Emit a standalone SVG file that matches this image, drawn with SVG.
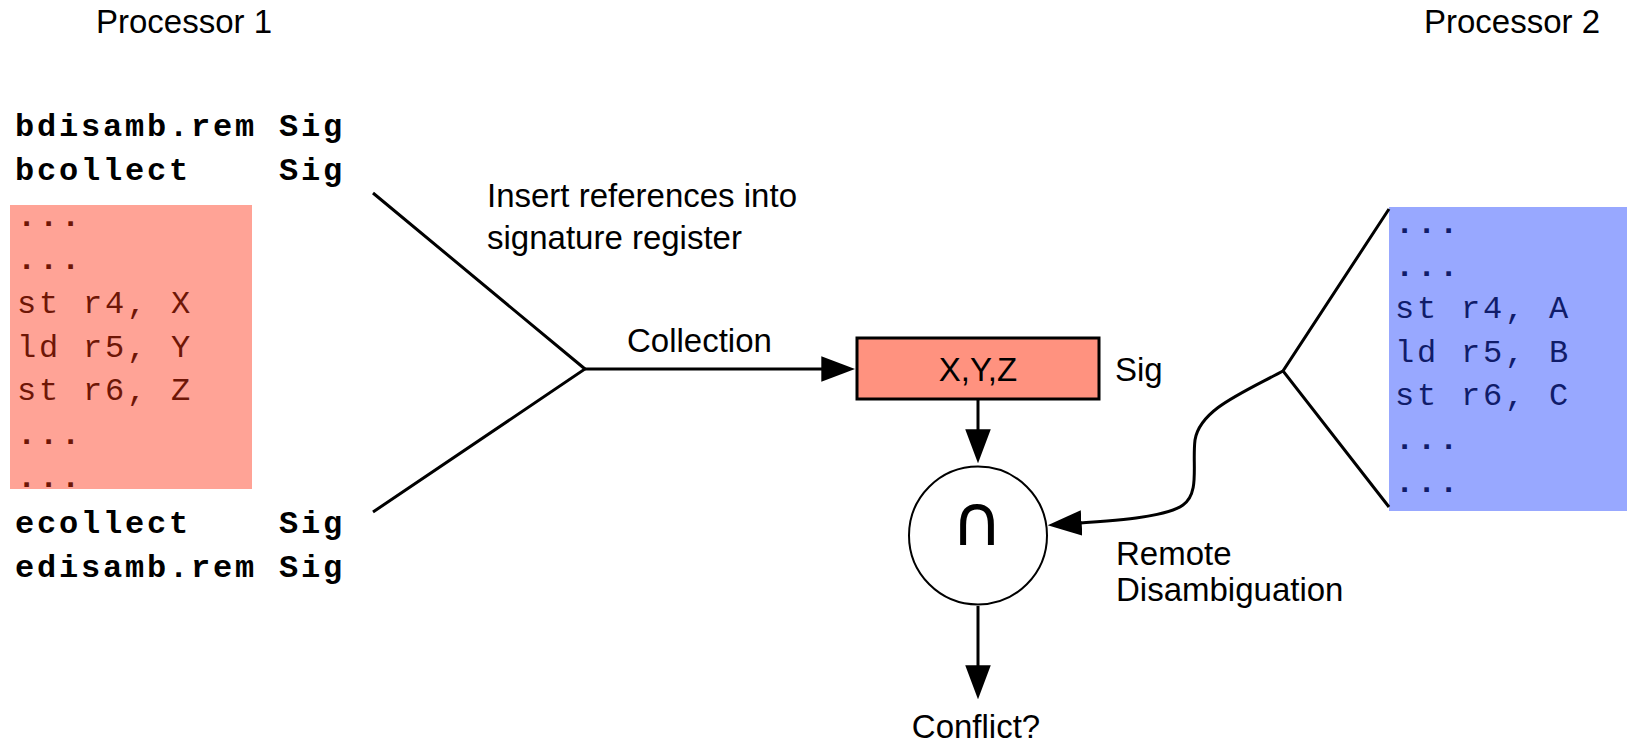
<svg xmlns="http://www.w3.org/2000/svg" width="1627" height="744" viewBox="0 0 1627 744">
<style>
.lbl{font-family:"Liberation Sans",Arial,Helvetica,sans-serif;font-size:33px;fill:#000}
.mono{font-family:"Liberation Mono","Courier New",monospace;font-size:32px;letter-spacing:2.8px;white-space:pre}
.bold{font-weight:bold;fill:#000}
.dots{font-weight:bold}
.red{fill:#6e1606}
.blue{fill:#101c6a}
.ln{fill:none;stroke:#000;stroke-width:3}
</style>
<defs>
<marker id="ah" markerUnits="userSpaceOnUse" markerWidth="34" markerHeight="26" viewBox="0 0 32 24" refX="27" refY="12" orient="auto">
<path d="M0,0 L32,12 L0,24 z" fill="#000"/>
</marker>
</defs>
<rect width="1627" height="744" fill="#fff"/>

<g id="proc1-title"><text class="lbl" x="96" y="33">Processor 1</text></g>
<g id="proc2-title"><text class="lbl" x="1424" y="33">Processor 2</text></g>

<g id="proc1-code">
<rect x="10" y="205" width="242" height="284" fill="#ffa396"/>
<text class="mono bold" x="15" y="136" xml:space="preserve">bdisamb.rem Sig</text>
<text class="mono bold" x="15" y="180" xml:space="preserve">bcollect    Sig</text>
<text class="mono red dots" x="17" y="226">...</text>
<text class="mono red dots" x="17" y="269">...</text>
<text class="mono red" x="17" y="313">st r4, X</text>
<text class="mono red" x="17" y="357">ld r5, Y</text>
<text class="mono red" x="17" y="400">st r6, Z</text>
<text class="mono red dots" x="17" y="444">...</text>
<text class="mono red dots" x="17" y="487">...</text>
<text class="mono bold" x="15" y="533" xml:space="preserve">ecollect    Sig</text>
<text class="mono bold" x="15" y="577" xml:space="preserve">edisamb.rem Sig</text>
</g>

<g id="proc2-code">
<rect x="1389" y="207" width="238" height="304" fill="#98a8ff"/>
<text class="mono blue dots" x="1395" y="233">...</text>
<text class="mono blue dots" x="1395" y="276">...</text>
<text class="mono blue" x="1395" y="318">st r4, A</text>
<text class="mono blue" x="1395" y="362">ld r5, B</text>
<text class="mono blue" x="1395" y="405">st r6, C</text>
<text class="mono blue dots" x="1395" y="449">...</text>
<text class="mono blue dots" x="1395" y="492">...</text>
</g>

<g id="sig-register">
<rect x="857" y="338" width="242" height="61" fill="#ff927f" stroke="#000" stroke-width="3"/>
<text class="lbl" x="978" y="381" text-anchor="middle">X,Y,Z</text>
<text class="lbl" x="1115" y="381">Sig</text>
</g>

<g id="intersect">
<circle cx="978" cy="535.5" r="69" fill="#fff" stroke="#000" stroke-width="2"/>
<text x="977" y="545" text-anchor="middle" style="font-family:'DejaVu Sans',sans-serif;font-size:71px">∩</text>
</g>

<g id="labels">
<text class="lbl" x="487" y="207">Insert references into</text>
<text class="lbl" x="487" y="249">signature register</text>
<text class="lbl" x="627" y="352">Collection</text>
<text class="lbl" x="1116" y="565">Remote</text>
<text class="lbl" x="1116" y="601">Disambiguation</text>
<text class="lbl" x="976" y="738" text-anchor="middle">Conflict?</text>
</g>

<g id="connectors">
<polyline class="ln" points="373,193 585,369 373,512"/>
<line class="ln" x1="585" y1="369" x2="850" y2="369" marker-end="url(#ah)"/>
<line class="ln" x1="978" y1="400" x2="978" y2="458" marker-end="url(#ah)"/>
<line class="ln" x1="978" y1="606" x2="978" y2="694" marker-end="url(#ah)"/>
<polyline class="ln" points="1389,209 1283,371 1389,507"/>
<path class="ln" d="M1283,371 C1240,394 1200,410 1195,440 C1192,465 1200,493 1183,505 C1165,518 1110,521 1053,524.8" marker-end="url(#ah)"/>
</g>
</svg>
